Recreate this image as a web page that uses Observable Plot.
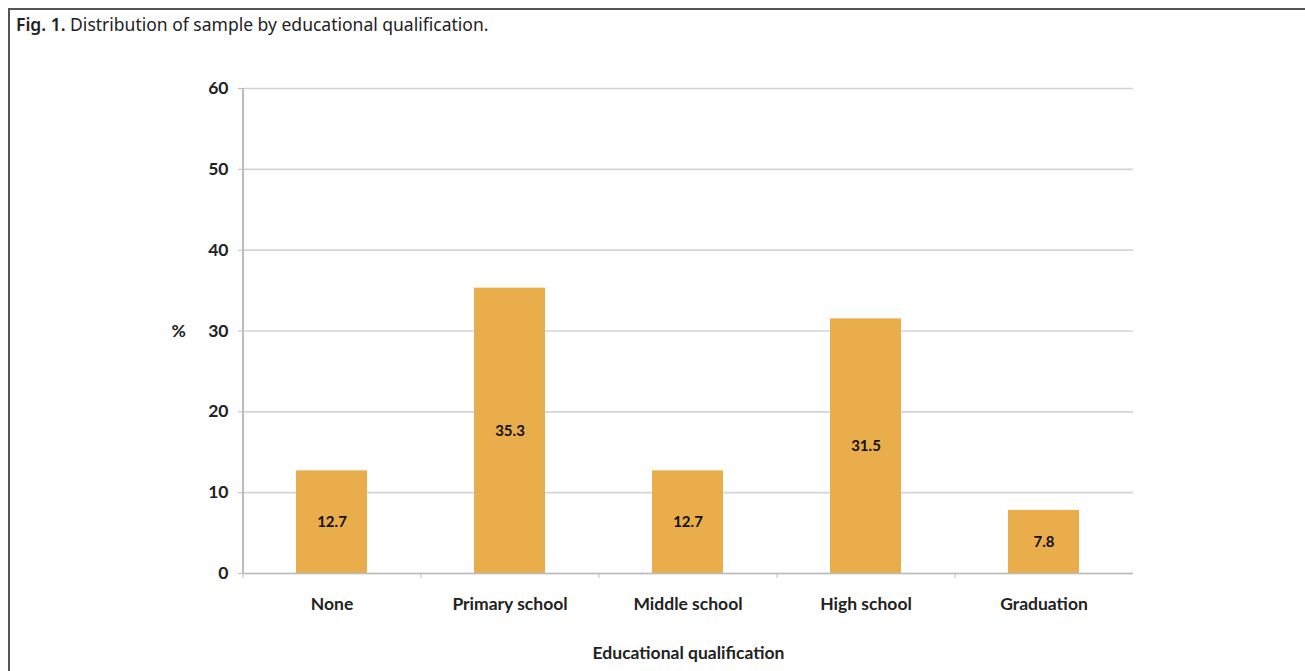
<!DOCTYPE html>
<html>
<head>
<meta charset="utf-8">
<script src="https://cdn.jsdelivr.net/npm/d3@7"></script>
<script src="https://cdn.jsdelivr.net/npm/@observablehq/plot@0.6"></script>
<style>
  html, body { margin: 0; padding: 0; background: #fff; width: 1305px; height: 671px; overflow: hidden; }
  #frame { position: absolute; left: 8px; top: 8px; right: 0; bottom: 0; border-top: 2px solid #555; border-left: 2px solid #555; }
  #caption { position: absolute; left: 16px; top: 12px; font-family: "Noto Sans", sans-serif; font-size: 17.5px; color: #222; }
  #caption b { font-weight: 600; }
  #chart { position: absolute; left: 0; top: 0; }
</style>
</head>
<body>
<div id="frame"></div>
<div id="caption"><b>Fig. 1.</b> Distribution of sample by educational qualification.</div>
<div id="chart"></div>
<script>
const categories = ["None", "Primary school", "Middle school", "High school", "Graduation"];
const percents = [12.7, 35.3, 12.7, 31.5, 7.8];
const yTicks = [0, 10, 20, 30, 40, 50, 60];

const data = categories.map((c, i) => ({category: c, value: percents[i]}));

const font = "Lato, 'Open Sans', sans-serif";
const fs = 17.5;

const chart = Plot.plot({
  width: 1305,
  height: 671,
  marginLeft: 243,
  marginRight: 172,
  marginTop: 88,
  marginBottom: 98,
  style: {fontFamily: font, fontSize: fs + "px", fontWeight: "bold", color: "#222", background: "transparent"},
  x: {domain: categories, paddingInner: 0.6, paddingOuter: 0.3, align: 0.5},
  y: {domain: [0, 60]},
  marks: [
    Plot.gridY(yTicks, {stroke: "#d4d4d4", strokeOpacity: 1, strokeWidth: 1.6}),
    Plot.barY(data, {x: "category", y: "value", fill: "#E9AD4B"}),
    Plot.ruleY([0], {stroke: "#bdbdbd", strokeWidth: 1.6}),
    Plot.ruleX([categories[0]], {dx: -89, stroke: "#bdbdbd", strokeWidth: 2}),
    Plot.axisY(yTicks, {tickSize: 5, tickPadding: 10, stroke: "#bdbdbd", label: null, fontSize: fs, fontWeight: "bold", fill: "#222"}),
    Plot.axisX({tickSize: 0, tickPadding: 24, label: null, fontSize: fs, fontWeight: "bold", fill: "#222"}),
    Plot.axisX({tickSize: 5, text: null, dx: -89, stroke: "#bdbdbd", label: null}),
    Plot.text(data, {x: "category", y: d => d.value / 2, text: d => d.value.toFixed(1), fontSize: 15, fontWeight: "bold", fill: "#111"}),
    Plot.text(["%"], {frameAnchor: "left", dx: -72, fontSize: fs, fontWeight: "bold", fill: "#222"}),
    Plot.text(["Educational qualification"], {frameAnchor: "bottom", dy: 85, fontSize: fs, fontWeight: "bold", fill: "#222"})
  ]
});
document.getElementById("chart").appendChild(chart);
</script>
</body>
</html>
